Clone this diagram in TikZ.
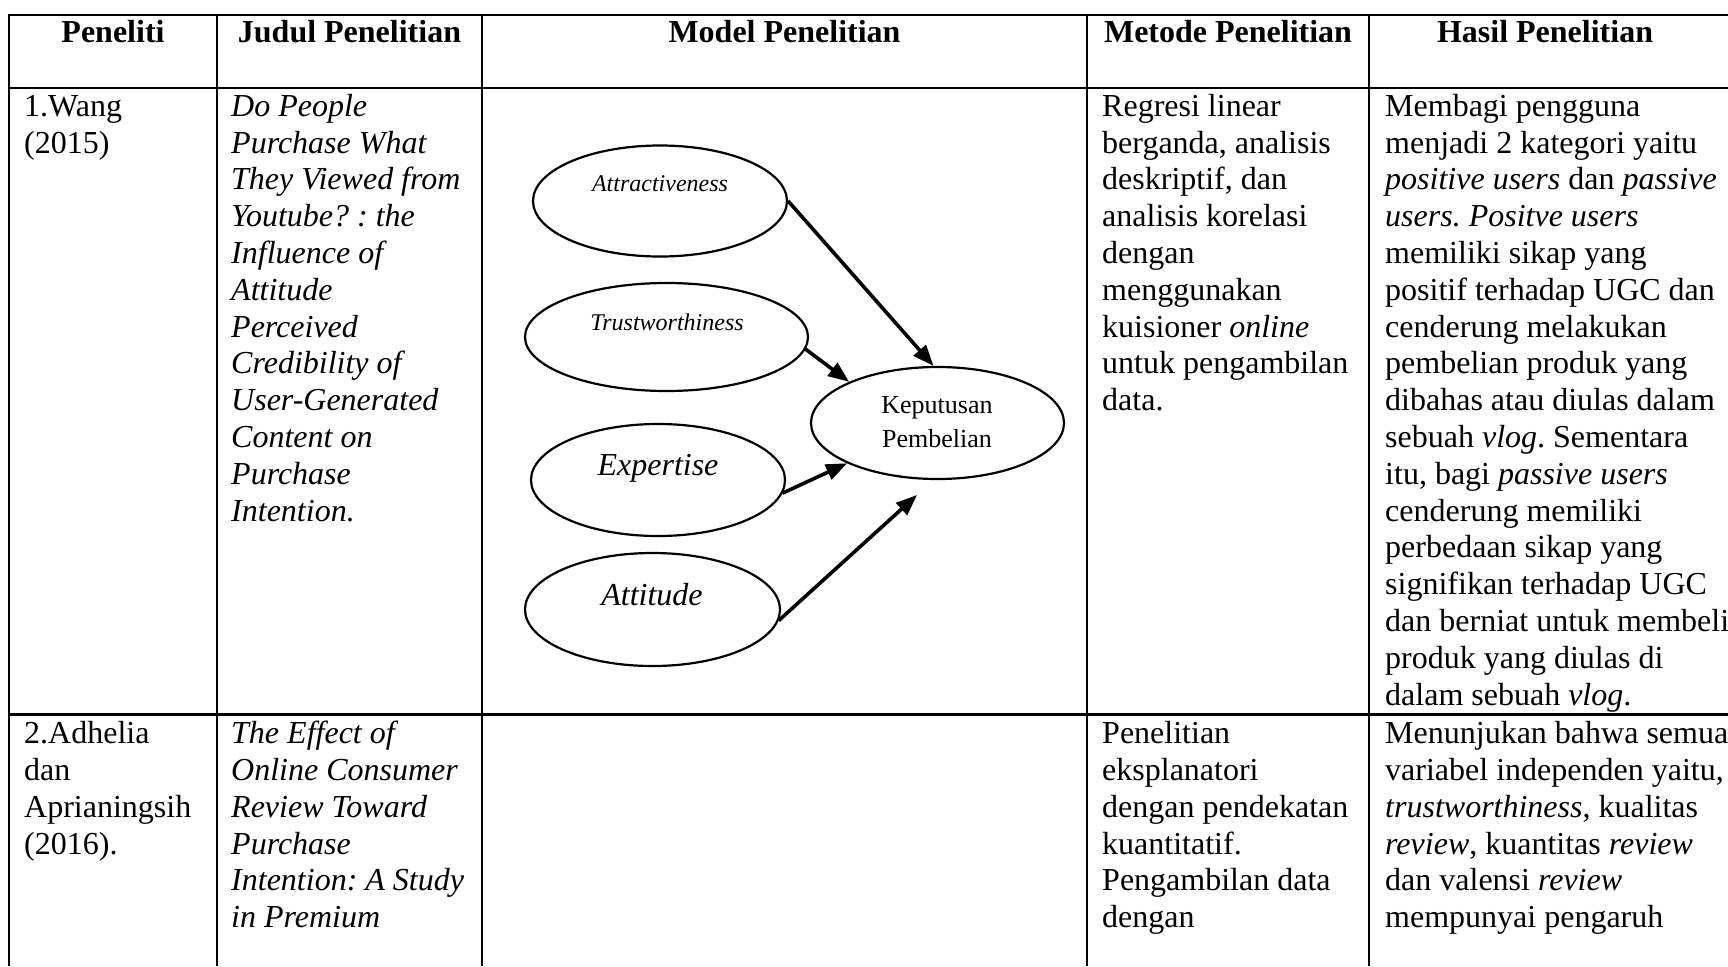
\documentclass[tikz,border=0pt]{standalone}
\usepackage{fontspec}
\setmainfont{Liberation Serif}
\usetikzlibrary{shapes.geometric,arrows.meta}
\frenchspacing

\begin{document}
\begin{tikzpicture}[x=1pt,y=-1pt,
  rule/.style={line width=2.2pt},
  bubble/.style={ellipse, draw, line width=2.2pt, inner sep=0pt},
  arr/.style={line width=3.6pt, -{Triangle[length=21pt,width=16pt]}},
  cell/.style={anchor=north west, inner sep=0pt, align=left,
               font=\fontsize{32}{36.8}\selectfont\frenchspacing},
  cellit/.style={cell, font=\fontsize{32}{36.8}\selectfont\itshape\frenchspacing},
  head/.style={anchor=base, inner sep=0pt,
               font=\fontsize{32}{36.8}\selectfont\bfseries},
  lbl/.style={anchor=base, inner sep=0pt},
]
\useasboundingbox (0,0) rectangle (1728,966);

% ---------- table rules ----------
\draw[rule] (9,966) -- (9,15) -- (1730,15);
\draw[rule] (9,88) -- (1730,88);
\draw[rule] (9,714.5) -- (1730,714.5);
\foreach \cx in {217,482,1087,1369}
  \draw[rule] (\cx,15) -- (\cx,966);

% ---------- header ----------
\node[head] (h1) at (113,42.5) {Peneliti};
\node[head] (h2) at (349.5,42.5) {Judul Penelitian};
\node[head] (h3) at (784.5,42.5) {Model Penelitian};
\node[head] (h4) at (1228,42.5) {Metode Penelitian};
\node[head] (h5) at (1545,42.5) {Hasil Penelitian};

% ---------- row 1 (first baseline at y=116) ----------
\node[cell] (r1a) at (24,90.24) {\strut 1.Wang\\(2015)};
\node[cellit] (r1b) at (231,90.24) {\strut Do People\\Purchase What\\They Viewed from\\Youtube? : the\\Influence of\\Attitude\\Perceived\\Credibility of\\User-Generated\\Content on\\Purchase\\Intention.};
\node[cell] (r1d) at (1102,90.24) {\strut Regresi linear\\berganda, analisis\\deskriptif, dan\\analisis korelasi\\dengan\\menggunakan\\kuisioner \textit{online}\\untuk pengambilan\\data.};
\node[cell] (r1e) at (1385,90.24) {\strut Membagi pengguna\\menjadi 2 kategori yaitu\\\textit{positive users} dan \textit{passive}\\\textit{users. Positve users}\\memiliki sikap yang\\positif terhadap UGC dan\\cenderung melakukan\\pembelian produk yang\\dibahas atau diulas dalam\\sebuah \textit{vlog}. Sementara\\itu, bagi \textit{passive users}\\cenderung memiliki\\perbedaan sikap yang\\signifikan terhadap UGC\\dan berniat untuk membeli\\produk yang diulas di\\dalam sebuah \textit{vlog}.};

% ---------- row 2 (first baseline at y=743.5) ----------
\node[cell] (r2a) at (24,717.74) {\strut 2.Adhelia\\dan\\Aprianingsih\\(2016).};
\node[cellit] (r2b) at (231,717.74) {\strut The Effect of\\Online Consumer\\Review Toward\\Purchase\\Intention: A Study\\in Premium};
\node[cell] (r2d) at (1102,717.74) {\strut Penelitian\\eksplanatori\\dengan pendekatan\\kuantitatif.\\Pengambilan data\\dengan};
\node[cell] (r2e) at (1385,717.74) {\strut Menunjukan bahwa semua\\variabel independen yaitu,\\\textit{trustworthiness}, kualitas\\\textit{review}, kuantitas \textit{review}\\dan valensi \textit{review}\\mempunyai pengaruh};

% ---------- research model ----------
\node[bubble, minimum width=254pt, minimum height=111pt] (attr)  at (660,201)   {};
\node[bubble, minimum width=283pt, minimum height=108pt] (trust) at (666.5,337) {};
\node[bubble, minimum width=253pt, minimum height=112pt] (kp)    at (937.5,423) {};
\node[bubble, minimum width=254pt, minimum height=112pt] (expe)  at (658,480)   {};
\node[bubble, minimum width=255pt, minimum height=113pt] (atti)  at (652.5,609.5) {};

\node[lbl, font=\fontsize{24}{27}\selectfont\itshape] (attrtxt) at (660,191) {Attractiveness};
\node[lbl, font=\fontsize{24}{27}\selectfont\itshape] (trusttxt) at (667,330) {Trustworthiness};
\node[lbl, font=\fontsize{26}{30}\selectfont] (kptxt1) at (937,413) {Keputusan};
\node[lbl, font=\fontsize{26}{30}\selectfont] (kptxt2) at (937,447) {Pembelian};
\node[lbl, font=\fontsize{32}{36.8}\selectfont\itshape] (expetxt) at (658,475) {Expertise};
\node[lbl, font=\fontsize{32}{36.8}\selectfont\itshape] (attitxt) at (652,605) {Attitude};

\coordinate (atip) at (917,495);
\draw[arr] (attr.east) -- (kp.94);
\draw[arr] (trust.-5) -- (kp.155);
\draw[arr] (expe.-6) -- (kp.204);
\draw[arr] (atti.-5) -- (atip);
\end{tikzpicture}
\end{document}
